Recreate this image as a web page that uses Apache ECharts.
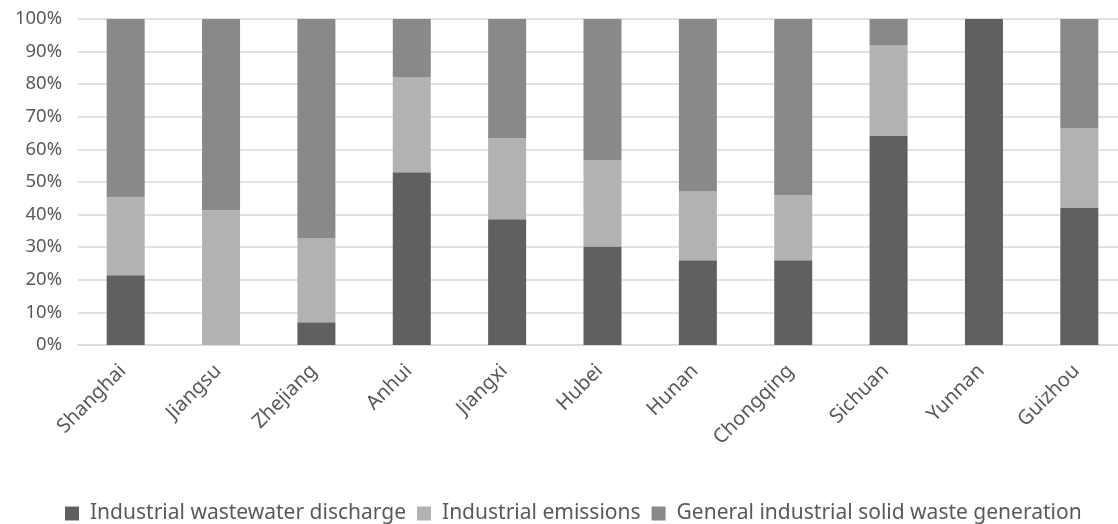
<!DOCTYPE html>
<html>
<head>
<meta charset="utf-8">
<script src="https://cdn.jsdelivr.net/npm/echarts@6/dist/echarts.min.js"></script>
<style>
  html, body { margin: 0; padding: 0; background: #fff; }
  #chart { width: 1118px; height: 524px; }
</style>
</head>
<body>
<div id="chart"></div>
<script>
// Provinces along the horizontal axis
const provinces = ['Shanghai', 'Jiangsu', 'Zhejiang', 'Anhui', 'Jiangxi', 'Hubei',
  'Hunan', 'Chongqing', 'Sichuan', 'Yunnan', 'Guizhou'];

// Share of each pollution source per province (%)
const wastewater = [21.4, 0, 7.0, 53.0, 38.6, 30.2, 26.0, 26.0, 64.1, 100, 42.2];
const emissions  = [23.9, 41.3, 25.7, 29.2, 24.8, 26.5, 21.1, 19.9, 27.9, 0, 24.3];
const solidWaste = [54.7, 58.7, 67.3, 17.8, 36.6, 43.3, 52.9, 54.1, 8.0, 0, 33.5];

const seriesNames = ['Industrial wastewater discharge', 'Industrial emissions',
  'General industrial solid waste generation'];
const yTicks = [0, 10, 20, 30, 40, 50, 60, 70, 80, 90, 100];

const textColor = '#595959';
const fontFamily = '"Noto Sans", "DejaVu Sans", sans-serif';

const chart = echarts.init(document.getElementById('chart'));

function barSeries(name, data, color) {
  return {
    name: name,
    type: 'bar',
    stack: 'total',
    data: data,
    barWidth: 38,
    itemStyle: { color: color },
    emphasis: { disabled: true }
  };
}

chart.setOption({
  animation: false,
  textStyle: { fontFamily: fontFamily },
  // the plot runs a little past the right edge of the canvas
  grid: { left: 78, top: 19, width: 1049, height: 326, containLabel: false, outerBoundsMode: 'none' },
  legend: {
    top: 498,
    left: 60,
    itemWidth: 14,
    itemHeight: 14,
    itemGap: 11,
    icon: 'rect',
    textStyle: { color: textColor, fontSize: 21, fontFamily: fontFamily, padding: [0, 0, 0, 6] },
    data: seriesNames
  },
  xAxis: {
    type: 'category',
    data: provinces,
    axisLine: { lineStyle: { color: '#d9d9d9', width: 1.5 } },
    axisTick: { show: false },
    axisLabel: {
      rotate: 45,
      color: textColor,
      fontSize: 20,
      margin: 20,
      padding: [0, 4, 0, 0],
      interval: 0
    }
  },
  yAxis: {
    type: 'value',
    min: yTicks[0],
    max: yTicks[yTicks.length - 1],
    interval: 10,
    axisLine: { show: false },
    axisTick: { show: false },
    splitLine: { lineStyle: { color: '#d9d9d9', width: 1.5 } },
    axisLabel: {
      color: textColor,
      fontSize: 18.5,
      margin: 16,
      formatter: function (v) { return v + '%'; }
    }
  },
  series: [
    barSeries(seriesNames[0], wastewater, '#606060'),
    barSeries(seriesNames[1], emissions, '#b2b2b2'),
    barSeries(seriesNames[2], solidWaste, '#898989')
  ]
});
</script>
</body>
</html>
